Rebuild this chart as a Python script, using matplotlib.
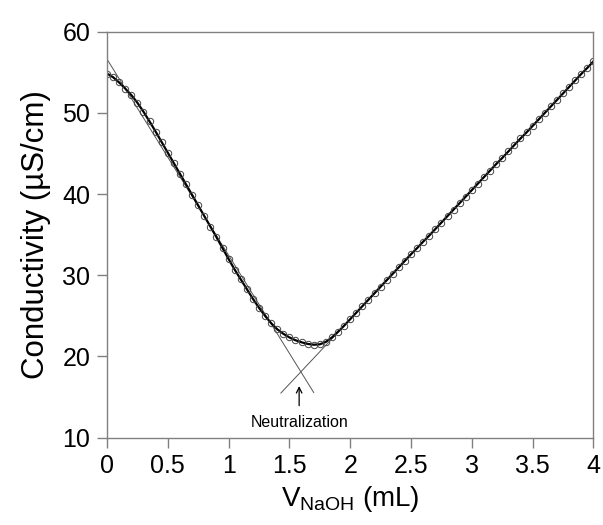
import matplotlib
matplotlib.use("Agg")
import matplotlib.pyplot as plt

plt.rcParams['font.family'] = ['Liberation Sans', 'DejaVu Sans']
plt.rcParams['mathtext.fontset'] = 'custom'
plt.rcParams['mathtext.rm'] = 'Liberation Sans'
plt.rcParams['mathtext.it'] = 'Liberation Sans:italic'

volume = [0.00, 0.05, 0.10, 0.15, 0.20, 0.25, 0.30, 0.35, 0.40, 0.45,
          0.50, 0.55, 0.60, 0.65, 0.70, 0.75, 0.80, 0.85, 0.90, 0.95,
          1.00, 1.05, 1.10, 1.15, 1.20, 1.25, 1.30, 1.35, 1.40, 1.45,
          1.50, 1.55, 1.60, 1.65, 1.70, 1.75, 1.80, 1.85, 1.90, 1.95,
          2.00, 2.05, 2.10, 2.15, 2.20, 2.25, 2.30, 2.35, 2.40, 2.45,
          2.50, 2.55, 2.60, 2.65, 2.70, 2.75, 2.80, 2.85, 2.90, 2.95,
          3.00, 3.05, 3.10, 3.15, 3.20, 3.25, 3.30, 3.35, 3.40, 3.45,
          3.50, 3.55, 3.60, 3.65, 3.70, 3.75, 3.80, 3.85, 3.90, 3.95,
          4.00]
conductivity = [54.85, 54.4, 53.75, 53.0, 52.2, 51.25, 50.15, 48.95, 47.7, 46.4,
                45.1, 43.8, 42.5, 41.2, 39.9, 38.6, 37.3, 36.0, 34.7, 33.35,
                32.0, 30.7, 29.5, 28.3, 27.1, 26.0, 25.0, 24.1, 23.35, 22.8,
                22.35, 22.0, 21.75, 21.55, 21.45, 21.5, 21.8, 22.35, 23.05, 23.8,
                24.6, 25.4, 26.2, 27.0, 27.8, 28.6, 29.4, 30.2, 31.0, 31.8,
                32.6, 33.35, 34.15, 34.9, 35.7, 36.5, 37.3, 38.1, 38.9, 39.7,
                40.5, 41.3, 42.1, 42.9, 43.7, 44.45, 45.25, 46.05, 46.85, 47.6,
                48.4, 49.2, 50.0, 50.8, 51.6, 52.4, 53.2, 54.0, 54.8, 55.55,
                56.35]

# end points of the two fitted straight lines
acid_x = [0.0, 1.70]
acid_y = [56.63, 15.56]
base_x = [1.43, 4.0]
base_y = [15.5, 56.4]

neutral_x = 1.58

fig = plt.figure(figsize=(6.03, 5.25), dpi=100)
ax = fig.add_axes([0.1774, 0.1663, 0.8068, 0.7733])

ax.plot(acid_x, acid_y, color='#555555', lw=0.7)
ax.plot(base_x, base_y, color='#555555', lw=0.7)
ax.plot(volume, conductivity, color='black', lw=1.6,
        marker='o', ms=4.6, mfc='none', mec='#444444', mew=0.7)

ax.annotate('', xy=(neutral_x, 16.7), xytext=(neutral_x, 13.6),
            arrowprops=dict(arrowstyle='->', color='black', lw=0.9))
ax.text(neutral_x, 11.9, 'Neutralization', ha='center', va='center', fontsize=11.5)

ax.set_xlim(0, 4)
ax.set_ylim(10, 60)
ax.set_xticks([0, 0.5, 1, 1.5, 2, 2.5, 3, 3.5, 4])
ax.set_xticklabels(['0', '0.5', '1', '1.5', '2', '2.5', '3', '3.5', '4'])
ax.set_yticks([10, 20, 30, 40, 50, 60])

for s in ax.spines.values():
    s.set_color('#808080')
    s.set_linewidth(1.0)
ax.tick_params(direction='out', length=7, width=1.0, color='#808080',
               labelsize=18, pad=5)

ax.set_xlabel(r'V$_{\mathrm{NaOH}}$ (mL)', fontsize=20, labelpad=4)
ax.set_ylabel('Conductivity (µS/cm)', fontsize=22.5, labelpad=8)

fig.savefig('out.png', dpi=100)
